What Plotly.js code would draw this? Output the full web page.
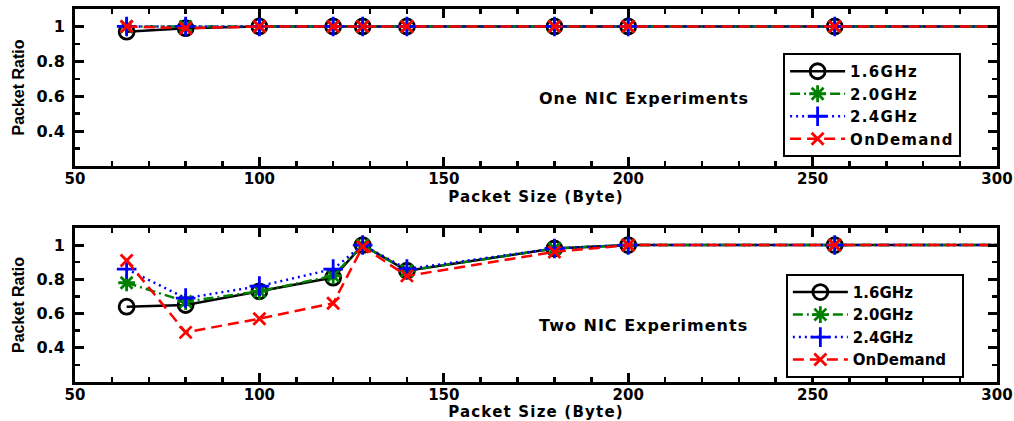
<!DOCTYPE html>
<html>
<head>
<meta charset="utf-8">
<script src="https://cdn.plot.ly/plotly-3.0.1.min.js"></script>
<style>
html,body{margin:0;padding:0;background:#fff;}
#chart{width:1014px;height:421px;}
.legendtext{letter-spacing:1.3px;}
.annotation-text{letter-spacing:1px;}
.g-xtitle text,.g-x2title text{letter-spacing:1.2px;}
</style>
</head>
<body>
<div id="chart"></div>
<script>
// ---- data ----
const packetSizes = [64, 80, 100, 120, 128, 140, 180, 200, 256, 512];
const seriesNames = ['1.6GHz', '2.0GHz', '2.4GHz', 'OnDemand'];

// One NIC experiments
const oneNic16 = [0.97, 0.99, 1, 1, 1, 1, 1, 1, 1, 1];
const oneNic20 = [1, 1, 1, 1, 1, 1, 1, 1, 1, 1];
const oneNic24 = [1, 1, 1, 1, 1, 1, 1, 1, 1, 1];
const oneNicOD = [1, 0.99, 1, 1, 1, 1, 1, 1, 1, 1];

// Two NIC experiments
const twoNic16 = [0.64, 0.65, 0.73, 0.81, 1.0, 0.85, 0.98, 1, 1, 1];
const twoNic20 = [0.78, 0.67, 0.73, 0.82, 1.0, 0.85, 0.98, 1, 1, 1];
const twoNic24 = [0.86, 0.69, 0.76, 0.86, 1.0, 0.86, 0.98, 1, 1, 1];
const twoNicOD = [0.91, 0.49, 0.57, 0.66, 0.99, 0.82, 0.96, 1, 1, 1];

const panelLabels = ['One NIC Experiments', 'Two NIC Experiments'];

// ---- styles ----
const styles = [
  {color: '#000000', dash: 'solid', symbol: 'circle-open', size: 15},
  {color: '#008000', dash: '10px,4px,2px,4px', symbol: 'asterisk-open', size: 14},
  {color: '#0000ff', dash: '2px,4px', symbol: 'cross-thin-open', size: 14},
  {color: '#ff0000', dash: '11px,6px', symbol: 'x-thin-open', size: 12}
];

const FONT = 'DejaVu Sans, Liberation Sans, Arial, sans-serif';

function mk(y, i, xa, ya, leg) {
  const s = styles[i];
  return {
    x: packetSizes, y: y, name: seriesNames[i], type: 'scatter', mode: 'lines+markers',
    xaxis: xa, yaxis: ya, legend: leg,
    line: {color: s.color, width: 2.5, dash: s.dash},
    marker: {symbol: s.symbol, size: s.size, color: s.color, line: {color: s.color, width: 2.8}}
  };
}

const traces = [
  mk(oneNic16, 0, 'x', 'y', 'legend'),
  mk(oneNic20, 1, 'x', 'y', 'legend'),
  mk(oneNic24, 2, 'x', 'y', 'legend'),
  mk(oneNicOD, 3, 'x', 'y', 'legend'),
  mk(twoNic16, 0, 'x2', 'y2', 'legend2'),
  mk(twoNic20, 1, 'x2', 'y2', 'legend2'),
  mk(twoNic24, 2, 'x2', 'y2', 'legend2'),
  mk(twoNicOD, 3, 'x2', 'y2', 'legend2')
];

function xAxis(domainAnchor) {
  return {
    anchor: domainAnchor, range: [50, 300], tickmode: 'linear', tick0: 50, dtick: 50,
    showline: true, linecolor: '#000', linewidth: 3, mirror: 'ticks',
    ticks: 'inside', ticklen: 9, tickwidth: 3, tickcolor: '#000',
    minor: {tickmode: 'linear', tick0: 50, dtick: 10, ticks: 'inside', ticklen: 5, tickwidth: 2.5, tickcolor: '#000', showgrid: false},
    showgrid: false, zeroline: false, ticklabelstandoff: -3, automargin: false,
    tickfont: {family: FONT, size: 15, color: '#000', weight: 'bold'},
    title: {text: 'Packet Size (Byte)', standoff: 0, font: {family: FONT, size: 15, color: '#000', weight: 'bold'}}
  };
}
function yAxis(domain, anchor) {
  return {
    domain: domain, anchor: anchor, range: [0.2001, 1.1], tickmode: 'linear', tick0: 0.2, dtick: 0.2,
    showline: true, linecolor: '#000', linewidth: 3, mirror: 'ticks',
    ticks: 'inside', ticklen: 9, tickwidth: 3, tickcolor: '#000',
    minor: {tickmode: 'linear', tick0: 0.2, dtick: 0.1, ticks: 'inside', ticklen: 5, tickwidth: 2.5, tickcolor: '#000', showgrid: false},
    showgrid: false, zeroline: false, ticklabelstandoff: 4, automargin: false,
    tickfont: {family: FONT, size: 16, color: '#000', weight: 'bold'},
    title: {text: 'Packet Ratio', standoff: 8, font: {family: 'Liberation Sans, Arial, sans-serif', size: 16, color: '#000', weight: 'bold'}}
  };
}

const legendBase = {
  bgcolor: '#fff', bordercolor: '#000', borderwidth: 2, xanchor: 'left', yanchor: 'top',
  font: {family: FONT, size: 15, color: '#000', weight: 'bold'}, itemwidth: 55, tracegroupgap: 0
};

const layout = {
  width: 1014, height: 421,
  margin: {l: 75, r: 17, t: 9, b: 39},
  paper_bgcolor: '#fff', plot_bgcolor: '#fff',
  xaxis: xAxis('y'),
  yaxis: yAxis([0.579, 1], 'x'),
  xaxis2: xAxis('y2'),
  yaxis2: yAxis([0, 0.413], 'x2'),
  legend: Object.assign({}, legendBase, {x: 0.768, y: 0.882}),
  legend2: Object.assign({}, legendBase, {x: 0.771, y: 0.29}),
  annotations: [
    {text: panelLabels[0], xref: 'x domain', yref: 'y domain', x: 0.617, y: 0.433, showarrow: false,
     font: {family: FONT, size: 16, color: '#000', weight: 'bold'}},
    {text: panelLabels[1], xref: 'x2 domain', yref: 'y2 domain', x: 0.617, y: 0.37, showarrow: false,
     font: {family: FONT, size: 16, color: '#000', weight: 'bold'}}
  ],
  showlegend: true
};

Plotly.newPlot('chart', traces, layout, {displayModeBar: false, staticPlot: true});
</script>
</body>
</html>
